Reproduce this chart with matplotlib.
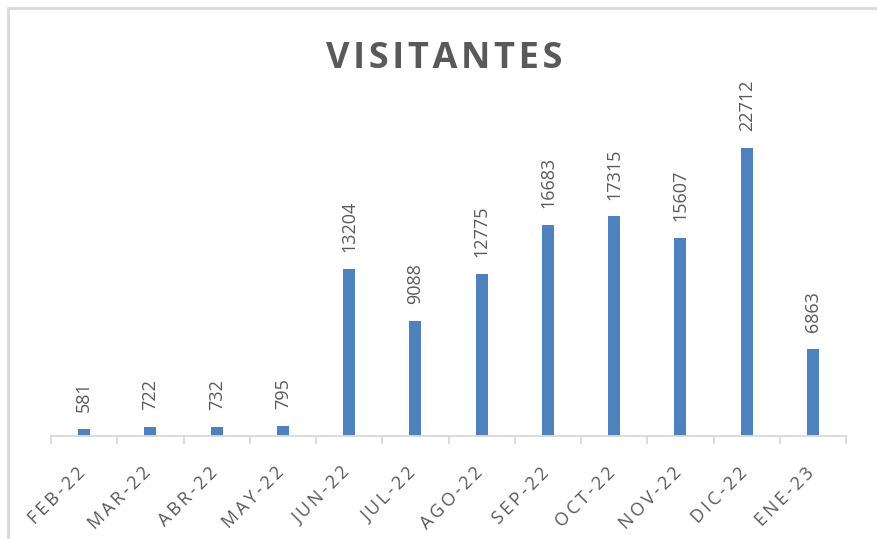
import matplotlib.pyplot as plt
import matplotlib.transforms as mtransforms
from matplotlib.patches import Rectangle

meses = ["FEB-22", "MAR-22", "ABR-22", "MAY-22", "JUN-22", "JUL-22",
         "AGO-22", "SEP-22", "OCT-22", "NOV-22", "DIC-22", "ENE-23"]
visitantes = [581, 722, 732, 795, 13204, 9088, 12775, 16683, 17315, 15607, 22712, 6863]

AZUL = "#4F81BD"
GRIS = "#595959"
LINEA = "#D9D9D9"

plt.rcParams["font.family"] = ["Open Sans", "DejaVu Sans"]


def espaciar(texto, sep="\u2009"):
    # Excel usa espaciado entre letras; se simula con espacios finos
    return sep.join(texto)


fig = plt.figure(figsize=(8.77, 5.39), dpi=100)
ax = fig.add_axes([0.0582, 0.1911, 0.9065, 0.588])

x = range(len(meses))
ax.bar(x, visitantes, width=0.18, color=AZUL, zorder=2)

for xi, v in zip(x, visitantes):
    ax.annotate(str(v), (xi, v), xytext=(0, 12), textcoords="offset points",
                rotation=90, ha="center", va="bottom", fontsize=13, color=GRIS)

ax.set_xlim(-0.5, len(meses) - 0.5)
ax.set_ylim(0, 25000)
ax.set_yticks([])
for lado in ["left", "right", "top"]:
    ax.spines[lado].set_visible(False)
ax.spines["bottom"].set_color(LINEA)
ax.spines["bottom"].set_linewidth(1.3)

ax.set_xticks([i - 0.5 for i in range(len(meses) + 1)], minor=False)
ax.set_xticklabels([])
ax.tick_params(axis="x", which="major", length=6, width=1.3, color=LINEA)
ax.set_xticks(list(x), minor=True)
ax.set_xticklabels([espaciar(m) for m in meses], minor=True, rotation=45,
                   ha="right", va="top", rotation_mode="anchor",
                   fontsize=13, color=GRIS)
ax.tick_params(axis="x", which="minor", length=0, pad=19)

# correr las etiquetas un poco a la izquierda
corrimiento = mtransforms.ScaledTranslation(-6 / 72, -1 / 72, fig.dpi_scale_trans)
for etiqueta in ax.get_xticklabels(minor=True):
    etiqueta.set_transform(etiqueta.get_transform() + corrimiento)

fig.text(0.506, 0.89, espaciar("VISITANTES", "\u200a"), ha="center", va="center",
         fontsize=26, fontweight="bold", color=GRIS)

fig.patches.append(Rectangle((8 / 877, -0.1), 1.2, 1 - 8 / 539 + 0.1,
                             transform=fig.transFigure, fill=False,
                             edgecolor=LINEA, linewidth=2))

fig.savefig("out.png", dpi=100)
